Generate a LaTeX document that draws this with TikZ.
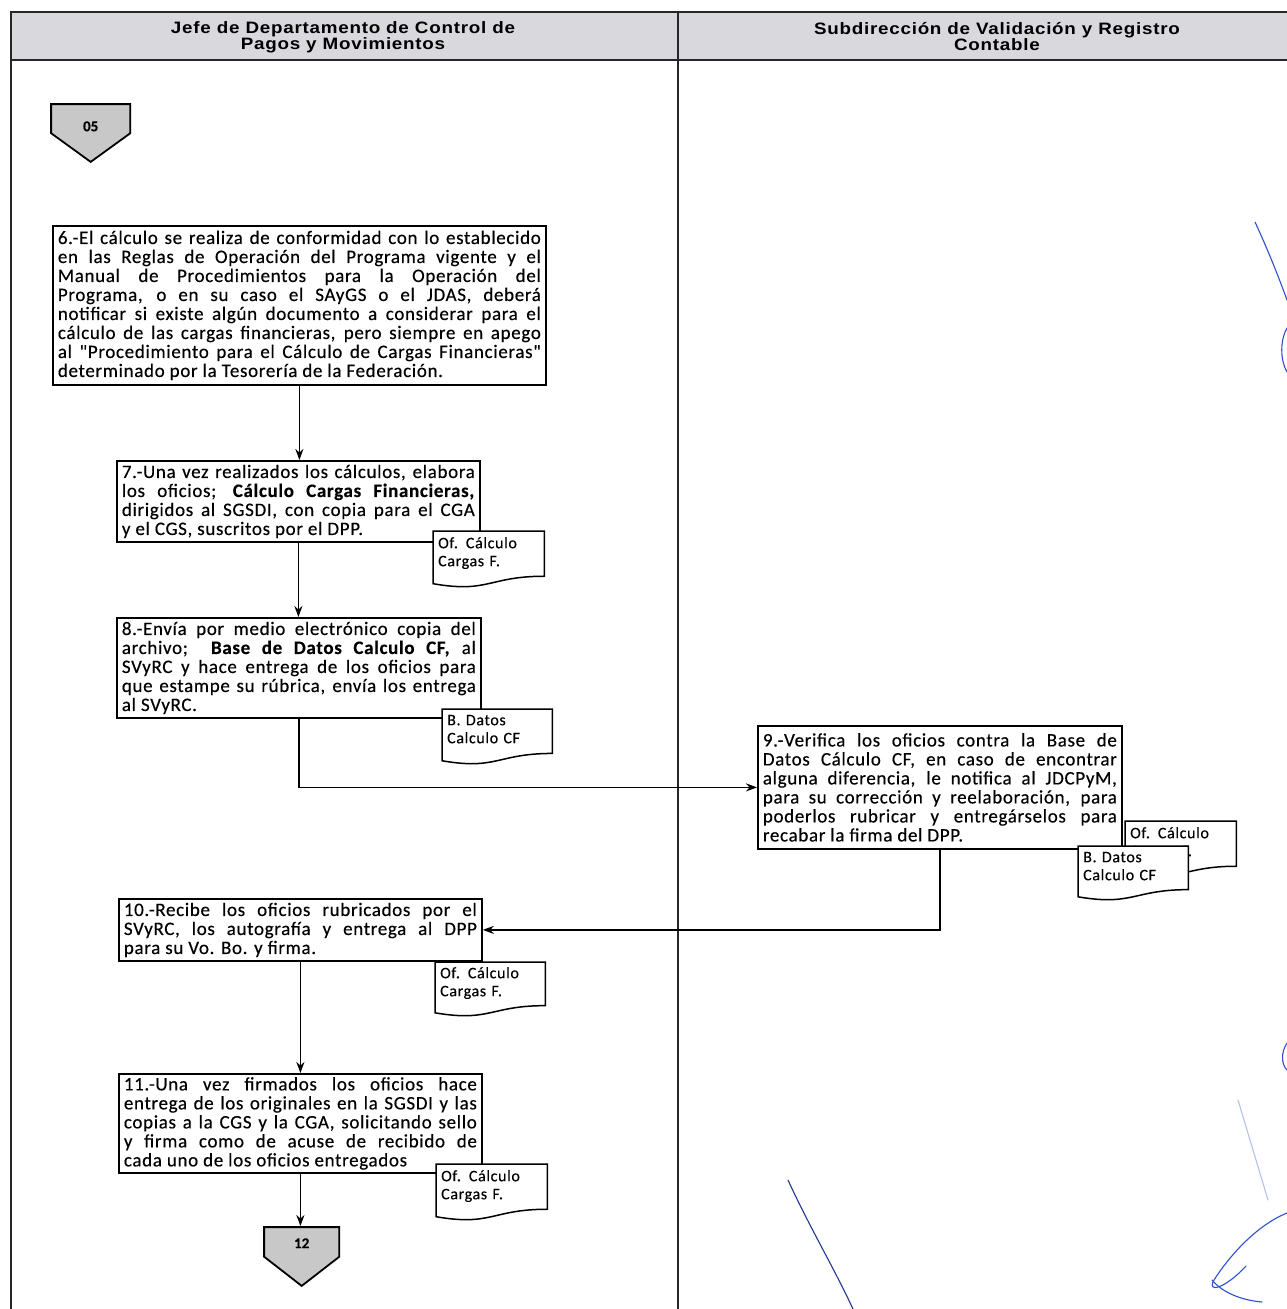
\documentclass[tikz,border=0pt]{standalone}
\usepackage{fontspec}
\usepackage{graphicx}
\setmainfont{Carlito}
\newfontfamily\bodyfont[LetterSpace=3.5, FakeBold=0.35, WordSpace={1,1,2}]{Carlito}
\newfontfamily\docfont[LetterSpace=4, FakeBold=0.35]{Carlito}
\newfontfamily\markfont[FakeBold=0.3]{Carlito}
\newfontfamily\headfont[LetterSpace=4]{Liberation Sans}
\usetikzlibrary{arrows.meta,calc}
\tolerance=10000
\hbadness=10000

\definecolor{headgray}{RGB}{216,216,221}
\definecolor{markgray}{RGB}{200,200,200}
\definecolor{penblue}{RGB}{45,80,205}

% wide header lettering
\newcommand\hx[1]{\scalebox{1.14}[1]{#1}}

\tikzset{
  laneline/.style={line width=2.4pt, draw=black!85},
  headtext/.style={align=center, font=\headfont\bfseries\fontsize{16.5}{16}\selectfont, inner sep=0pt},
  stepbox/.style={draw, line width=1.8pt, fill=white, anchor=north west, align=justify,
    inner xsep=5pt, inner ysep=2pt, font=\bodyfont\fontsize{19}{19}\selectfont},
  flow/.style={line width=1.8pt, -{Stealth[length=11pt,width=8pt]}},
  docpath/.style={fill=white, draw=black, line width=1.5pt},
  % width, height, text width, first baseline, remaining depth
  docnote/.style n args={5}{rectangle, anchor=north west, minimum width=#1pt, minimum height=#2pt,
    text width=#3pt, inner xsep=6pt, inner ysep=0pt, text height=#4pt, text depth=#5pt,
    align=left, font=\docfont\fontsize{16}{18}\selectfont,
    path picture={
      \path[docpath] let \p1=(path picture bounding box.north west),
                         \p2=(path picture bounding box.south east),
                         \p3=($(\p1)!0.5!(\p2)$),
                         \n1={\y1-\y2-1.6pt} in
        (\x1+0.8pt,\y1-0.8pt) -- (\x2-0.8pt,\y1-0.8pt) -- (\x2-0.8pt,\y1-0.8pt-0.802*\n1)
        .. controls (\x3,\y1-0.8pt-0.802*\n1) and (\x3,\y1-0.8pt-1.107*\n1) ..
        (\x1+0.8pt,\y1-0.8pt-0.934*\n1) -- cycle;
    }},
  % width, height, baseline from top, depth below baseline
  offpage/.style n args={4}{rectangle, anchor=north west, minimum width=#1pt, minimum height=#2pt,
    inner sep=0pt, text height=#3pt, text depth=#4pt,
    font=\markfont\bfseries\fontsize{15}{16}\selectfont,
    path picture={
      \path[fill=markgray, draw=black, line width=1.8pt]
        let \p1=(path picture bounding box.north west),
            \p2=(path picture bounding box.south east),
            \p3=($(\p1)!0.5!(\p2)$) in
        (\x1+0.9pt,\y1-0.9pt) -- (\x2-0.9pt,\y1-0.9pt) -- (\x2-0.9pt,\y3)
        -- (\x3,\y2+1.3pt) -- (\x1+0.9pt,\y3) -- cycle;
    }},
  penstroke/.style={draw=penblue, line width=1.1pt, line cap=round}
}

\begin{document}
\begin{tikzpicture}[x=1pt,y=-1pt]
\useasboundingbox (0,0) rectangle (1286,1309);
\fill[white] (0,0) rectangle (1286,1309);

% swimlane header and lane borders
\fill[headgray] (11,12) rectangle (1292,60);
\draw[laneline] (9.8,12) -- (1292,12);
\draw[laneline] (11,60) -- (1292,60);
\draw[laneline] (11,12) -- (11,1312);
\draw[laneline] (678,12) -- (678,1312);
\node[headtext] (hL) at (343,37) {\hx{Jefe de Departamento de Control de}\\\hx{Pagos y Movimientos}};
\node[headtext] (hR) at (997,37) {\hx{Subdirección de Validación y Registro}\\\hx{Contable}};

% incoming off-page connector
\node[offpage={81}{60}{28}{32}] (c05) at (50,103) {05};

% process steps
\node[stepbox, text width=483pt, minimum height=159pt] (b6) at (52,225) {%
6.-El cálculo se realiza de conformidad con lo establecido\linebreak
en las Reglas de Operación del Programa vigente y el\linebreak
Manual de Procedimientos para la Operación del\linebreak
Programa, o en su caso el SAyGS o el JDAS, deberá\linebreak
notificar si existe algún documento a considerar para el\linebreak
cálculo de las cargas financieras, pero siempre en apego\linebreak
al "Procedimiento para el Cálculo de Cargas Financieras"\linebreak
determinado por la Tesorería de la Federación.};

\node[stepbox, text width=353pt, minimum height=81pt] (b7) at (116,460) {%
7.-Una vez realizados los cálculos, elabora\linebreak
los oficios; \textbf{Cálculo Cargas Financieras,}\linebreak
dirigidos al SGSDI, con copia para el CGA\linebreak
y el CGS, suscritos por el DPP.};

\node[stepbox, text width=354pt, minimum height=100pt] (b8) at (116,617) {%
8.-Envía por medio electrónico copia del\linebreak
archivo;\ \ \textbf{Base de Datos Calculo CF,} al\linebreak
SVyRC y hace entrega de los oficios para\linebreak
que estampe su rúbrica, envía los entrega\linebreak
al SVyRC.};

\node[stepbox, text width=354pt, minimum height=123pt] (b9) at (757,725) {%
9.-Verifica los oficios contra la Base de\linebreak
Datos Cálculo CF, en caso de encontrar\linebreak
alguna diferencia, le notifica al JDCPyM,\linebreak
para su corrección y reelaboración, para\linebreak
poderlos rubricar y entregárselos para\linebreak
recabar la firma del DPP.};

\node[stepbox, text width=353pt, minimum height=62pt] (b10) at (118,898) {%
10.-Recibe los oficios rubricados por el\linebreak
SVyRC, los autografía y entrega al DPP\linebreak
para su Vo. Bo. y firma.};

\node[stepbox, text width=353pt, minimum height=99pt] (b11) at (118,1073) {%
11.-Una vez firmados los oficios hace\linebreak
entrega de los originales en la SGSDI y las\linebreak
copias a la CGS y la CGA, solicitando sello\linebreak
y firma como de acuse de recibido de\linebreak
cada uno de los oficios entregados};

% outgoing off-page connector
\node[offpage={77}{61}{22}{39}] (c12) at (263,1226) {12};

% flow connectors
\draw[flow] (b6.south) -- (b6.south |- b7.north);
\draw[flow] (b7.south) -- (b7.south |- b8.north);
\draw[flow] (b8.south) |- (b9.west);
\draw[flow] (b9.south) |- (b10.east);
\draw[flow] (b10.south) -- (b10.south |- b11.north);
\draw[flow] (b11.south) -- (b11.south |- c12.north);

% documents produced at each step
\node[docnote={113}{58}{101}{18}{40}] (d7) at (432,530) {Of. Cálculo\\Cargas F.};
\node[docnote={112}{57}{100}{17}{40}] (d8) at (441,708) {B. Datos\\Calculo CF};
\node[docnote={113}{58}{101}{18}{40}] (d9a) at (1124,820) {Of. Cálculo\\Cargas F.};
\node[docnote={112}{56}{100}{17}{39}] (d9b) at (1077,845) {B. Datos\\Calculo CF};
\node[docnote={112}{56}{100}{17}{39}] (d10) at (434,961) {Of. Cálculo\\Cargas F.};
\node[docnote={113}{58}{101}{18}{40}] (d11) at (435,1163) {Of. Cálculo\\Cargas F.};

% handwritten pen marks along the right margin
\draw[penstroke] (1255,222) .. controls (1268,250) and (1279,278) .. (1287,300);
\draw[penstroke] (1287,328) .. controls (1280,340) and (1280,360) .. (1287,372);
\draw[penstroke] (1287,1043) .. controls (1281,1052) and (1281,1064) .. (1287,1070);
\draw[penstroke, draw opacity=0.35] (1238,1100) -- (1268,1200);
\draw[penstroke] (1287,1213) .. controls (1255,1226) and (1228,1258) .. (1214,1280)
  .. controls (1206,1294) and (1226,1288) .. (1246,1266);
\draw[penstroke] (1212,1280) .. controls (1222,1292) and (1240,1300) .. (1262,1302);
\draw[penstroke, draw=penblue!70!black] (788,1180) .. controls (810,1228) and (834,1268) .. (853,1309);
\end{tikzpicture}
\end{document}
